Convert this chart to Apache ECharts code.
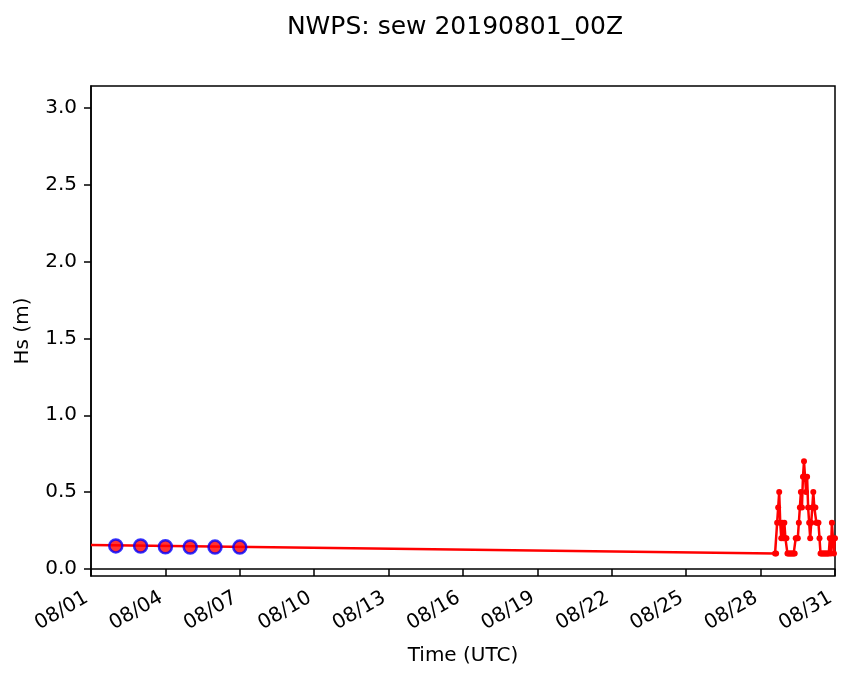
<!DOCTYPE html>
<html>
<head>
<meta charset="utf-8">
<script src="https://cdn.jsdelivr.net/npm/echarts@6/dist/echarts.min.js"></script>
<style>
  html, body { margin: 0; padding: 0; background: #fff; }
  #chart { width: 853px; height: 681px; }
</style>
</head>
<body>
<div id="chart"></div>
<script>
// hours since 2019-08-01 00Z
var modelHours = [0,
  662, 663, 664, 665, 666, 667, 668, 669, 670, 671,
  672, 673, 674, 675, 676, 677, 678, 679, 680, 681,
  682, 683, 684, 685, 686, 687, 688, 689, 690, 691,
  692, 693, 694, 695, 696, 697, 698, 699, 700, 701,
  702, 703, 704, 705, 706, 707, 708, 709, 710, 711,
  712, 713, 714, 715, 716, 717, 718, 719, 720];
var modelHs = [0.155,
  0.1, 0.1, 0.3, 0.4, 0.5, 0.3, 0.2, 0.3, 0.2, 0.3,
  0.2, 0.2, 0.1, 0.1, 0.1, 0.1, 0.1, 0.1, 0.1, 0.1,
  0.2, 0.2, 0.2, 0.3, 0.4, 0.5, 0.4, 0.6, 0.7, 0.6,
  0.5, 0.6, 0.4, 0.3, 0.2, 0.3, 0.4, 0.5, 0.4, 0.4,
  0.3, 0.3, 0.3, 0.2, 0.1, 0.1, 0.1, 0.1, 0.1, 0.1,
  0.1, 0.1, 0.1, 0.2, 0.1, 0.3, 0.2, 0.1, 0.2];

var obsHours = [24, 48, 72, 96, 120, 144];
var obsHs = [0.150, 0.149, 0.144, 0.143, 0.142, 0.142];

var yTicks = [0, 0.5, 1.0, 1.5, 2.0, 2.5, 3.0];

var font = 'DejaVu Sans';

function pad(n) { return (n < 10 ? '0' : '') + n; }

var chart = echarts.init(document.getElementById('chart'));

chart.setOption({
  animation: false,
  title: {
    text: 'NWPS: sew 20190801_00Z',
    left: 450,
    top: 10,
    textAlign: 'center',
    textStyle: { fontFamily: font, fontSize: 25, fontWeight: 'normal', color: '#000' }
  },
  grid: {
    left: 91, right: 18, top: 86, bottom: 105,
    show: true, borderColor: '#000', borderWidth: 1.5
  },
  xAxis: {
    type: 'value',
    min: 0,
    max: 720,
    interval: 72,
    name: 'Time (UTC)',
    nameLocation: 'middle',
    nameGap: 70,
    nameTextStyle: { fontFamily: font, fontSize: 20, color: '#000' },
    axisLine: { lineStyle: { color: '#000', width: 1.5 } },
    axisTick: { length: 7, lineStyle: { color: '#000', width: 1.5 } },
    splitLine: { show: false },
    axisLabel: {
      rotate: 30,
      margin: 18,
      padding: [0, 5, 0, 0],
      fontFamily: font,
      fontSize: 20,
      color: '#000',
      formatter: function (v) { return '08/' + pad(v / 24 + 1); }
    }
  },
  yAxis: {
    type: 'value',
    min: -0.046,
    max: 3.143,
    name: 'Hs (m)',
    nameLocation: 'middle',
    nameGap: 58,
    nameTextStyle: { fontFamily: font, fontSize: 20, color: '#000' },
    axisLine: { show: true, lineStyle: { color: '#000', width: 1.5 } },
    axisTick: { show: true, length: 7, customValues: yTicks, lineStyle: { color: '#000', width: 1.5 } },
    splitLine: { show: false },
    axisLabel: {
      margin: 14,
      customValues: yTicks,
      fontFamily: font,
      fontSize: 20,
      color: '#000',
      formatter: function (v) { return v.toFixed(1); }
    }
  },
  series: [
    {
      name: 'model',
      type: 'line',
      data: modelHours.map(function (h, i) {
        var d = { value: [h, modelHs[i]] };
        if (i === 0) d.symbol = 'none';
        return d;
      }),
      symbol: 'circle',
      symbolSize: 6,
      showAllSymbol: true,
      itemStyle: { color: '#ff0000' },
      lineStyle: { color: '#ff0000', width: 2.5 },
      z: 2
    },
    {
      name: 'obs',
      type: 'scatter',
      data: obsHours.map(function (h, i) { return [h, obsHs[i]]; }),
      symbol: 'circle',
      symbolSize: 13,
      itemStyle: { color: '#ff0000', borderColor: '#0000ff', borderWidth: 2.5 },
      z: 3
    }
  ]
});
</script>
</body>
</html>
